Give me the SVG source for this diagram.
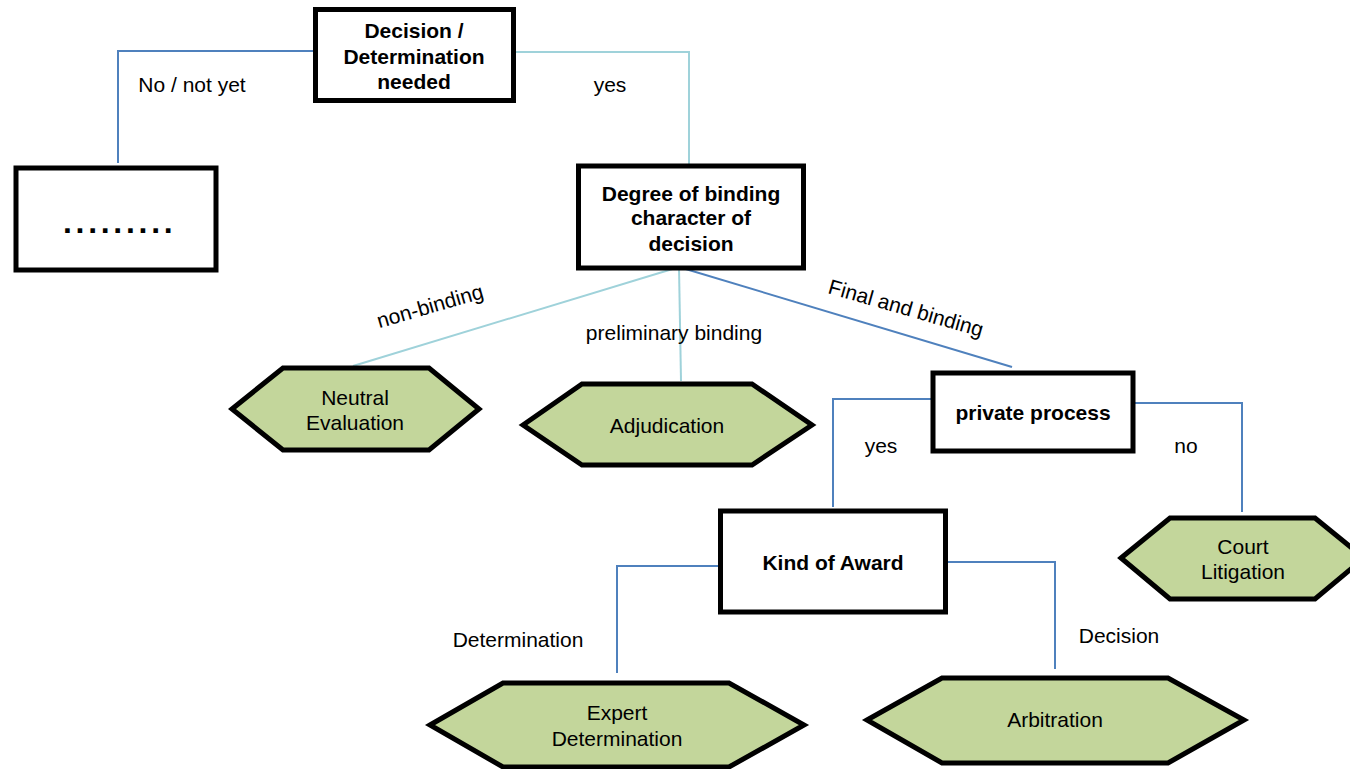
<svg xmlns="http://www.w3.org/2000/svg" width="1350" height="769" viewBox="0 0 1350 769">
<style>
.box{fill:#fff;stroke:#000;stroke-width:5}
.hex{fill:#c3d69b;stroke:#000;stroke-width:5;stroke-linejoin:miter}
.c1{fill:none;stroke:#4f81bd;stroke-width:2}
.c2{fill:none;stroke:#9fd2da;stroke-width:2}
text{font-family:"Liberation Sans",Arial,sans-serif;font-size:21px;fill:#000}
.b{font-weight:bold}
.m{text-anchor:middle}
</style>
<rect width="1350" height="769" fill="#fff"/>
<g id="connectors">
<polyline class="c1" points="315,51 118,51 118,163"/>
<polyline class="c2" points="516,52 689,52 689,164"/>
<line class="c2" x1="679" y1="267" x2="353" y2="366"/>
<line class="c2" x1="679" y1="267" x2="681" y2="381"/>
<line class="c1" x1="679" y1="267" x2="1012" y2="367"/>
<polyline class="c1" points="932,399 833,399 833,507"/>
<polyline class="c1" points="1134,403 1242,403 1242,512"/>
<polyline class="c1" points="720,566 617,566 617,673"/>
<polyline class="c1" points="946,562 1055,562 1055,669"/>
<text x="192" y="92" class="m">No / not yet</text>
<text x="610" y="92" class="m">yes</text>
<text x="432" y="313" class="m" transform="rotate(-16 432 313)">non-binding</text>
<text x="674" y="340" class="m">preliminary binding</text>
<text x="904" y="315" class="m" transform="rotate(16 904 315)">Final and binding</text>
<text x="881" y="453" class="m">yes</text>
<text x="1186" y="453" class="m">no</text>
<text x="518" y="647" class="m">Determination</text>
<text x="1119" y="643" class="m">Decision</text>
</g>
<g id="n-decision">
<rect class="box" x="315.5" y="9.5" width="198" height="91"/>
<text class="b m" x="414" y="38">Decision /</text>
<text class="b m" x="414" y="64">Determination</text>
<text class="b m" x="414" y="89">needed</text>
</g>
<g id="n-dots">
<rect class="box" x="16" y="168" width="200" height="102"/>
<text class="b" x="63" y="233" style="font-size:32px;letter-spacing:3.7px">.........</text>
</g>
<g id="n-degree">
<rect class="box" x="578.5" y="166" width="225" height="102"/>
<text class="b m" x="691" y="201">Degree of binding</text>
<text class="b m" x="691" y="225">character of</text>
<text class="b m" x="691" y="251">decision</text>
</g>
<g id="n-private">
<rect class="box" x="933" y="373" width="200" height="78"/>
<text class="b m" x="1033" y="420">private process</text>
</g>
<g id="n-kind">
<rect class="box" x="720.5" y="511" width="225" height="101"/>
<text class="b m" x="833" y="570">Kind of Award</text>
</g>
<g id="n-neutral">
<polygon class="hex" points="232,409 283,368 429,368 479,409 429,450 283,450"/>
<text class="m" x="355" y="405">Neutral</text>
<text class="m" x="355" y="430">Evaluation</text>
</g>
<g id="n-adjudication">
<polygon class="hex" points="523,425 582,384 752,384 812,425 752,465 582,465"/>
<text class="m" x="667" y="433">Adjudication</text>
</g>
<g id="n-court">
<polygon class="hex" points="1121,558 1170,518 1315,518 1364,558 1315,599 1170,599"/>
<text class="m" x="1243" y="554">Court</text>
<text class="m" x="1243" y="579">Litigation</text>
</g>
<g id="n-expert">
<polygon class="hex" points="430,725 503,683 729,683 804,725 729,767 503,767"/>
<text class="m" x="617" y="720">Expert</text>
<text class="m" x="617" y="746">Determination</text>
</g>
<g id="n-arbitration">
<polygon class="hex" points="867,720 942,678 1168,678 1244,720 1168,763 942,763"/>
<text class="m" x="1055" y="727">Arbitration</text>
</g>
</svg>
